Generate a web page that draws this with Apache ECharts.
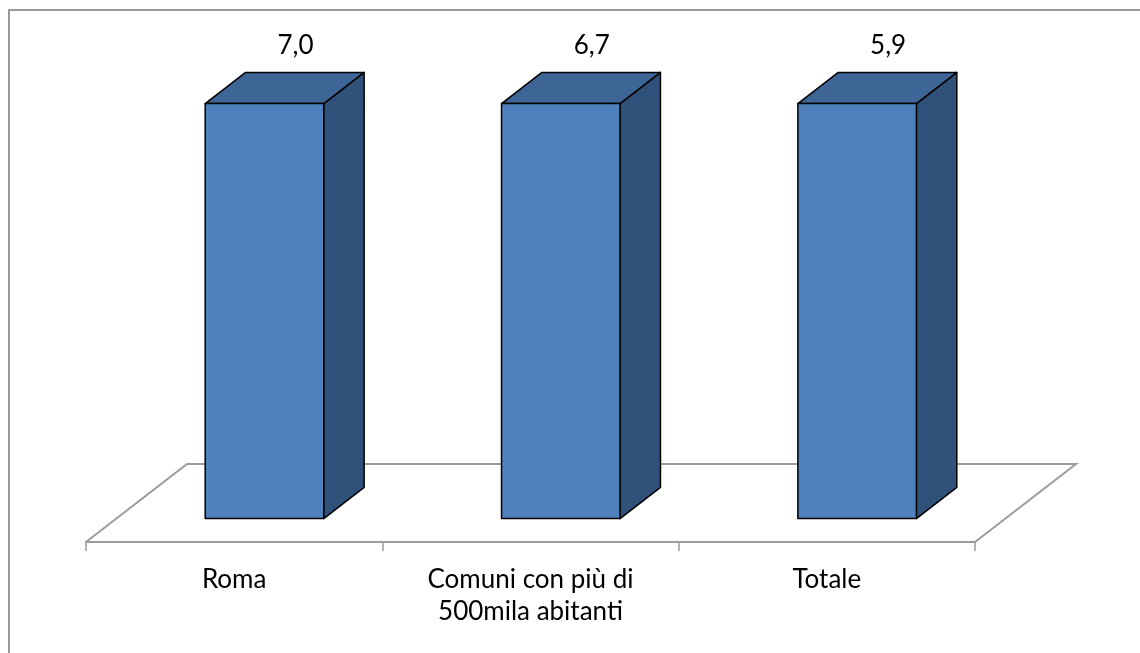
<!DOCTYPE html>
<html>
<head>
<meta charset="utf-8">
<script src="https://cdn.jsdelivr.net/npm/echarts@6/dist/echarts.min.js"></script>
<style>
  html, body { margin: 0; padding: 0; background: #fff; }
  #myCharts { width: 1140px; height: 653px; }
</style>
</head>
<body>
<div id="myCharts"></div>
<script>
  // dati
  var categorie = ['Roma', 'Comuni con più di\n500mila abitanti', 'Totale'];
  var valori = [7.0, 6.7, 5.9];
  // asse verticale tagliato: le barre escono tutte sopra il massimo
  var yMax = 5;

  var DEPTH = [101, -78];   // profondità del pavimento 3D (px)
  var BAR_W = 0.4;          // larghezza barra rispetto alla categoria
  var FONT = 'Lato, "Open Sans", sans-serif';

  var myChart = echarts.init(document.getElementById('myCharts'));

  function floorItem(params, api) {
    var cs = params.coordSys;
    var yb = cs.y + cs.height;
    return {
      type: 'polyline',
      silent: true,
      shape: {
        points: [
          [cs.x, yb],
          [cs.x + DEPTH[0], yb + DEPTH[1]],
          [cs.x + cs.width + DEPTH[0], yb + DEPTH[1]],
          [cs.x + cs.width, yb]
        ]
      },
      style: { stroke: '#9c9c9c', lineWidth: 2, fill: null }
    };
  }

  function barItem(params, api) {
    var idx = api.value(0);
    var raw = api.value(1);
    var v = Math.min(raw, yMax);
    var base = api.coord([idx, 0]);
    var top = api.coord([idx, v]);
    var w = api.size([1, 0])[0] * BAR_W;
    var ox = DEPTH[0] * 0.3, oy = DEPTH[1] * 0.3;
    var dx = DEPTH[0] * 0.4, dy = DEPTH[1] * 0.4;
    var x0 = base[0] - w / 2 + ox, x1 = x0 + w;
    var yb = base[1] + oy, yt = top[1] + oy;
    var line = { stroke: '#000', lineWidth: 1.5, lineJoin: 'round' };
    return {
      type: 'group',
      children: [
        {
          type: 'polygon',
          shape: { points: [[x1, yt], [x1 + dx, yt + dy], [x1 + dx, yb + dy], [x1, yb]] },
          style: Object.assign({ fill: '#30517a' }, line)
        },
        {
          type: 'polygon',
          shape: { points: [[x0, yt], [x1, yt], [x1 + dx, yt + dy], [x0 + dx, yt + dy]] },
          style: Object.assign({ fill: '#3d6697' }, line)
        },
        {
          type: 'rect',
          shape: { x: x0, y: yt, width: w, height: yb - yt },
          style: Object.assign({ fill: '#4f81bd' }, line)
        },
        {
          type: 'text',
          style: {
            text: raw.toFixed(1).replace('.', ','),
            x: (x0 + x1) / 2 + 31,
            y: yt + dy - 27,
            align: 'center',
            verticalAlign: 'middle',
            fontSize: 26,
            fontFamily: FONT,
            fill: '#000'
          }
        }
      ]
    };
  }

  myChart.setOption({
    animation: false,
    backgroundColor: '#fff',
    graphic: [{
      type: 'polyline',
      shape: { points: [[9, 700], [9, 10], [1200, 10]] },
      style: { fill: null, stroke: '#999', lineWidth: 2 },
      silent: true
    }],
    grid: {
      top: 127,
      left: 86,
      right: 165,
      bottom: 111
    },
    xAxis: {
      type: 'category',
      data: categorie,
      boundaryGap: true,
      axisLine: { show: true, lineStyle: { color: '#9c9c9c', width: 2 } },
      axisTick: { show: true, interval: 0, length: 9, lineStyle: { color: '#9c9c9c', width: 1.5 } },
      axisLabel: {
        margin: 22,
        verticalAlign: 'top',
        fontSize: 26,
        lineHeight: 32,
        fontFamily: FONT,
        color: '#000'
      }
    },
    yAxis: {
      type: 'value',
      min: 0,
      max: yMax,
      show: false
    },
    series: [
      {
        type: 'custom',
        renderItem: floorItem,
        data: [[0, 0]],
        z: 1
      },
      {
        type: 'custom',
        renderItem: barItem,
        data: valori.map(function (v, i) { return [i, v]; }),
        z: 2
      }
    ]
  });
</script>
</body>
</html>
